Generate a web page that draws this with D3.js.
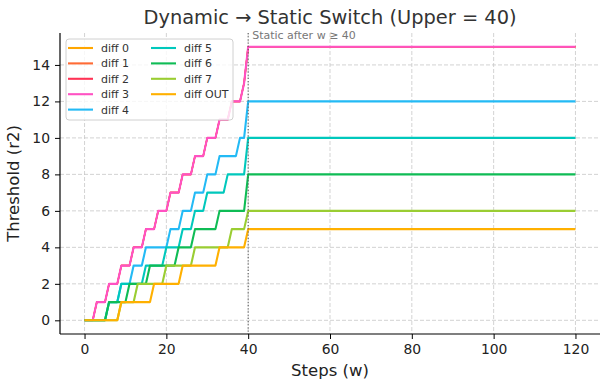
<!DOCTYPE html>
<html>
<head>
<meta charset="utf-8">
<script src="https://cdn.jsdelivr.net/npm/d3@7/dist/d3.min.js"></script>
<style>
  body { margin: 0; background: #fff; }
  text { font-family: "DejaVu Sans", sans-serif; }
</style>
</head>
<body>
<div id="chart"></div>
<script>
// steps w = 0..40 (dynamic part), after that each threshold stays flat
var steps = [0,1,2,3,4,5,6,7,8,9,10,11,12,13,14,15,16,17,18,19,20,
             21,22,23,24,25,26,27,28,29,30,31,32,33,34,35,36,37,38,39,40];
var lastStep = 120;
var upper = 40;

var diff0 = [0,0,0,1,1,1,2,2,2,3,3,3,4,4,4,5,5,5,6,6,6,7,7,7,8,8,8,9,9,9,10,10,10,11,11,11,12,12,12,13,15];
var diff1 = [0,0,0,1,1,1,2,2,2,3,3,3,4,4,4,5,5,5,6,6,6,7,7,7,8,8,8,9,9,9,10,10,10,11,11,11,12,12,12,13,15];
var diff2 = [0,0,0,1,1,1,2,2,2,3,3,3,4,4,4,5,5,5,6,6,6,7,7,7,8,8,8,9,9,9,10,10,10,11,11,11,12,12,12,13,15];
var diff3 = [0,0,0,1,1,1,2,2,2,3,3,3,4,4,4,5,5,5,6,6,6,7,7,7,8,8,8,9,9,9,10,10,10,11,11,11,12,12,12,13,15];
var diff4 = [0,0,0,0,0,0,1,1,1,2,2,2,3,3,3,4,4,4,4,4,4,5,5,5,6,6,6,7,7,7,8,8,8,9,9,9,9,9,10,10,12];
var diff5 = [0,0,0,0,0,0,1,1,1,2,2,2,2,2,2,3,3,3,3,3,4,4,4,4,5,5,5,6,6,6,7,7,7,7,7,8,8,8,8,8,10];
var diff6 = [0,0,0,0,0,0,1,1,1,1,1,2,2,2,2,2,3,3,3,3,3,3,3,4,4,4,4,5,5,5,5,5,5,6,6,6,6,6,6,6,8];
var diff7 = [0,0,0,0,0,0,0,0,0,1,1,1,1,2,2,2,2,2,2,2,3,3,3,3,3,3,3,4,4,4,4,4,4,4,4,4,5,5,5,5,6];
var diffOUT = [0,0,0,0,0,0,0,0,0,1,1,1,1,1,1,1,1,2,2,2,2,2,2,2,3,3,3,3,3,3,3,3,3,4,4,4,4,4,4,4,5];

var names = ["diff 0","diff 1","diff 2","diff 3","diff 4","diff 5","diff 6","diff 7","diff OUT"];
var colors = ["#ffa600","#ff6b35","#ff3355","#ff52c3","#23baf5","#00c8bc","#0fbc55","#9acd32","#ffb000"];
var values = [diff0, diff1, diff2, diff3, diff4, diff5, diff6, diff7, diffOUT];

var W = 610, H = 390;
var margin = {top: 33, right: 10, bottom: 56, left: 60};

var svg = d3.select("#chart").append("svg")
  .attr("width", W)
  .attr("height", H);

var x = d3.scaleLinear().domain([-6, 126]).range([margin.left, W - margin.right]);
var y = d3.scaleLinear().domain([-0.75, 15.75]).range([H - margin.bottom, margin.top]);

var xTicks = [0, 20, 40, 60, 80, 100, 120];
var yTicks = [0, 2, 4, 6, 8, 10, 12, 14];

// grid
svg.append("g").selectAll("line").data(xTicks).enter().append("line")
  .attr("x1", function(d) { return x(d); }).attr("x2", function(d) { return x(d); })
  .attr("y1", margin.top).attr("y2", H - margin.bottom)
  .attr("stroke", "#c8c8c8").attr("stroke-width", 0.8).attr("stroke-dasharray", "4,2");
svg.append("g").selectAll("line").data(yTicks).enter().append("line")
  .attr("x1", margin.left).attr("x2", W - margin.right)
  .attr("y1", function(d) { return y(d); }).attr("y2", function(d) { return y(d); })
  .attr("stroke", "#c8c8c8").attr("stroke-width", 0.8).attr("stroke-dasharray", "4,2");

// axes
var xAxis = d3.axisBottom(x).tickValues(xTicks).tickSize(5).tickPadding(5);
var yAxis = d3.axisLeft(y).tickValues(yTicks).tickSize(5).tickPadding(5);

var gx = svg.append("g")
  .attr("transform", "translate(0," + (H - margin.bottom) + ")")
  .call(xAxis);
var gy = svg.append("g")
  .attr("transform", "translate(" + margin.left + ",0)")
  .call(yAxis);

[gx, gy].forEach(function(g) {
  g.select(".domain").attr("stroke", "#000").attr("stroke-width", 1.2);
  g.selectAll(".tick line").attr("stroke", "#000").attr("stroke-width", 1);
  g.selectAll(".tick text").attr("fill", "#222").style("font-size", "13.9px")
    .style("font-family", "DejaVu Sans");
});
gx.select(".domain").attr("d", "M" + margin.left + ",0H" + (W - margin.right));
gy.select(".domain").attr("d", "M0," + margin.top + "V" + (H - margin.bottom));

// series (diff 0-2 run under diff 3, keep them a hair thinner so no fringe shows)
var line = d3.line()
  .x(function(d) { return x(d[0]); })
  .y(function(d) { return y(d[1]); });

values.forEach(function(v, i) {
  var pts = steps.map(function(s, j) { return [s, v[j]]; });
  pts.push([lastStep, v[v.length - 1]]);
  svg.append("path")
    .datum(pts)
    .attr("fill", "none")
    .attr("stroke", colors[i])
    .attr("stroke-width", i < 3 ? 1.5 : 2.1)
    .attr("stroke-linejoin", "round")
    .attr("d", line);
});

// switch marker
svg.append("line")
  .attr("x1", x(upper)).attr("x2", x(upper))
  .attr("y1", margin.top).attr("y2", H - margin.bottom)
  .attr("stroke", "#555").attr("stroke-width", 1)
  .attr("stroke-dasharray", "1.2,2");

svg.append("text")
  .attr("x", x(upper) + 4)
  .attr("y", 38.5)
  .attr("fill", "#777")
  .style("font-size", "11px")
  .text("Static after w \u2265 40");

// legend
var leg = svg.append("g").attr("transform", "translate(66,39)");
leg.append("rect")
  .attr("width", 167).attr("height", 81)
  .attr("rx", 3).attr("ry", 3)
  .attr("fill", "#fff").attr("fill-opacity", 0.8)
  .attr("stroke", "#d0d0d0").attr("stroke-width", 1);

names.forEach(function(n, i) {
  var col = i < 5 ? 0 : 1;
  var row = i < 5 ? i : i - 5;
  var lx = col === 0 ? 2 : 85;
  var ly = 9 + row * 15.4;
  leg.append("line")
    .attr("x1", lx).attr("x2", lx + 25)
    .attr("y1", ly).attr("y2", ly)
    .attr("stroke", colors[i]).attr("stroke-width", 2.1);
  leg.append("text")
    .attr("x", lx + 33).attr("y", ly + 4)
    .attr("fill", "#333")
    .style("font-size", "11px")
    .text(n);
});

// titles
svg.append("text")
  .attr("x", (margin.left + W - margin.right) / 2)
  .attr("y", 24)
  .attr("text-anchor", "middle")
  .attr("fill", "#333")
  .style("font-size", "19.4px")
  .text("Dynamic \u2192 Static Switch (Upper = 40)");

svg.append("text")
  .attr("x", (margin.left + W - margin.right) / 2)
  .attr("y", 376)
  .attr("text-anchor", "middle")
  .attr("fill", "#222")
  .style("font-size", "16.5px")
  .text("Steps (w)");

svg.append("text")
  .attr("transform", "translate(19," + ((margin.top + H - margin.bottom) / 2) + ") rotate(-90)")
  .attr("text-anchor", "middle")
  .attr("fill", "#222")
  .style("font-size", "16.5px")
  .text("Threshold (r2)");
</script>
</body>
</html>
